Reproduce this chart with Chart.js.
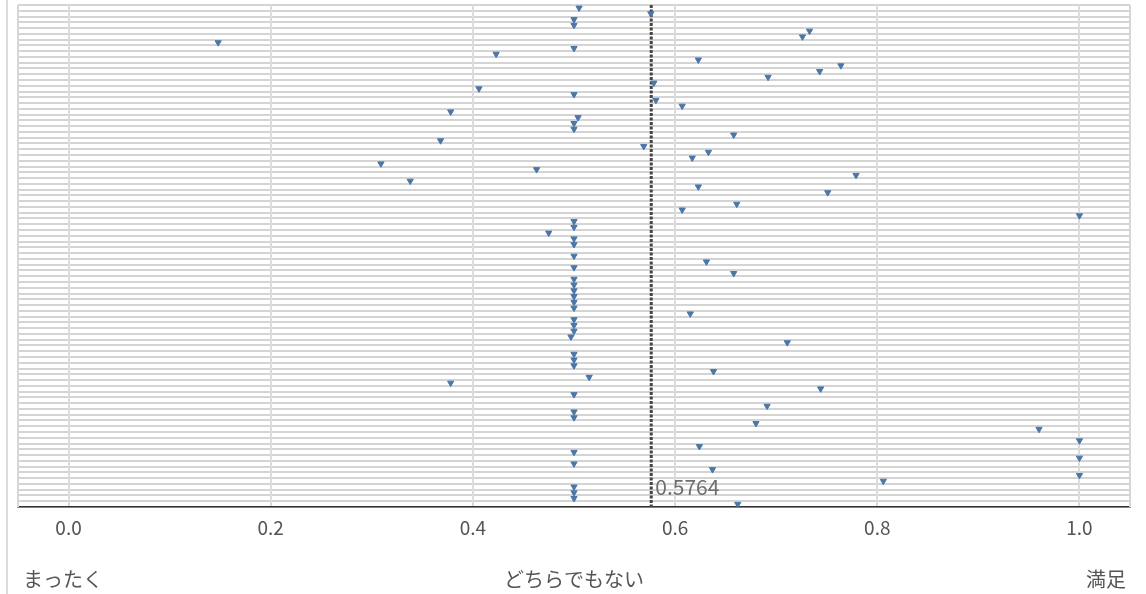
<!DOCTYPE html>
<html>
<head>
<meta charset="utf-8">
<script src="https://cdn.jsdelivr.net/npm/chart.js@4"></script>
<style>
  html, body { margin: 0; padding: 0; background: #fff; }
  #wrap { position: relative; width: 1146px; height: 594px; }
  #edge { position: absolute; left: 6px; top: 0; height: 594px; border-left: 2px solid #dcdcdc; }
  canvas { position: absolute; left: 0; top: 0; }
</style>
</head>
<body>
<div id="wrap">
  <div id="edge"></div>
  <canvas id="dotChart" width="1146" height="594"></canvas>
</div>
<script>
// one value per respondent row (null = no answer)
const rowValues = [
  0.505, 0.576, 0.5, 0.5, 0.733, 0.726, 0.148, 0.5, 0.423, 0.623,
  0.764, 0.743, 0.692, 0.579, 0.406, 0.5, 0.581, 0.607, 0.378, 0.504,
  0.5, 0.5, 0.658, 0.368, 0.569, 0.633, 0.617, 0.309, 0.463, 0.779,
  0.338, 0.623, 0.751, null, 0.661, 0.607, 1.0, 0.5, 0.5, 0.475,
  0.5, 0.5, null, 0.5, 0.631, 0.5, 0.658, 0.5, 0.5, 0.5,
  0.5, 0.5, 0.5, 0.615, 0.5, 0.5, 0.5, 0.497, 0.711, null,
  0.5, 0.5, 0.5, 0.638, 0.515, 0.378, 0.744, 0.5, null, 0.691,
  0.5, 0.5, 0.680, 0.960, null, 1.0, 0.624, 0.5, 1.0, 0.5,
  0.637, 1.0, 0.806, 0.5, 0.5, 0.5, 0.662
];
const rowLabels = rowValues.map((v, i) => 'R' + (i + 1));
const xTicks = [0, 0.2, 0.4, 0.6, 0.8, 1.0];
const scaleTicks = [-0.045, 0.5, 1.046];
const scaleLabels = ['まったく', 'どちらでもない', '満足'];
const meanValue = 0.5764;

const FONT = '"Noto Sans CJK JP", "Noto Sans", sans-serif';

const meanLinePlugin = {
  id: 'meanLine',
  beforeDatasetsDraw(chart) {
    const { ctx, chartArea, scales } = chart;
    const px = scales.x.getPixelForValue(meanValue);
    ctx.save();
    // plot frame left/right
    ctx.strokeStyle = '#d6d6d6';
    ctx.lineWidth = 2;
    ctx.beginPath();
    ctx.moveTo(chartArea.left, chartArea.top);
    ctx.lineTo(chartArea.left, chartArea.bottom);
    ctx.moveTo(chartArea.right, chartArea.top);
    ctx.lineTo(chartArea.right, chartArea.bottom);
    ctx.stroke();
    // mean line
    ctx.strokeStyle = '#444';
    ctx.lineWidth = 3;
    ctx.setLineDash([3, 1.5]);
    ctx.beginPath();
    ctx.moveTo(px, chartArea.top);
    ctx.lineTo(px, chartArea.bottom);
    ctx.stroke();
    ctx.setLineDash([]);
    ctx.fillStyle = '#6e6e6e';
    ctx.font = '21px ' + FONT;
    ctx.textBaseline = 'middle';
    ctx.fillText(meanValue.toFixed(4), px + 4, chartArea.bottom - 20);
    ctx.restore();
  }
};

new Chart(document.getElementById('dotChart').getContext('2d'), {
  type: 'line',
  data: {
    labels: rowLabels,
    datasets: [{
      data: rowValues,
      showLine: false,
      pointStyle: 'triangle',
      rotation: 180,
      pointRadius: 3.6,
      backgroundColor: '#4a77a8',
      borderColor: '#4a77a8',
      borderWidth: 1
    }]
  },
  options: {
    indexAxis: 'y',
    responsive: false,
    animation: false,
    layout: { autoPadding: false, padding: { left: 18, right: 16, top: 5, bottom: 0 } },
    plugins: { legend: { display: false }, tooltip: { enabled: false } },
    scales: {
      y: {
        type: 'category',
        offset: true,
        grid: { offset: true, color: '#d4d4d4', lineWidth: 2, drawTicks: false },
        border: { display: false },
        ticks: { display: false },
        afterFit: s => { s.width = 0; }
      },
      x: {
        type: 'linear',
        position: 'bottom',
        min: -0.05,
        max: 1.05,
        afterBuildTicks: s => { s.ticks = xTicks.map(v => ({ value: v })); },
        grid: { color: '#dcdcdc', lineWidth: 2, drawTicks: false },
        border: { color: '#333', width: 1.5 },
        ticks: {
          padding: 9,
          color: '#555',
          font: { family: FONT, size: 19 },
          callback: v => Number(v).toFixed(1)
        },
        afterFit: s => { s.height = 33; s.paddingLeft = 0; s.paddingRight = 0; }
      },
      x2: {
        type: 'linear',
        position: 'bottom',
        min: -0.05,
        max: 1.05,
        afterBuildTicks: s => { s.ticks = scaleTicks.map(v => ({ value: v })); },
        grid: { display: false, drawTicks: false },
        border: { display: false },
        ticks: {
          padding: 27,
          align: 'inner',
          color: '#555',
          font: { family: FONT, size: 20 },
          callback: (v, i) => scaleLabels[i]
        },
        afterFit: s => { s.height = 54; s.paddingLeft = 0; s.paddingRight = 0; }
      }
    }
  },
  plugins: [meanLinePlugin]
});
</script>
</body>
</html>
